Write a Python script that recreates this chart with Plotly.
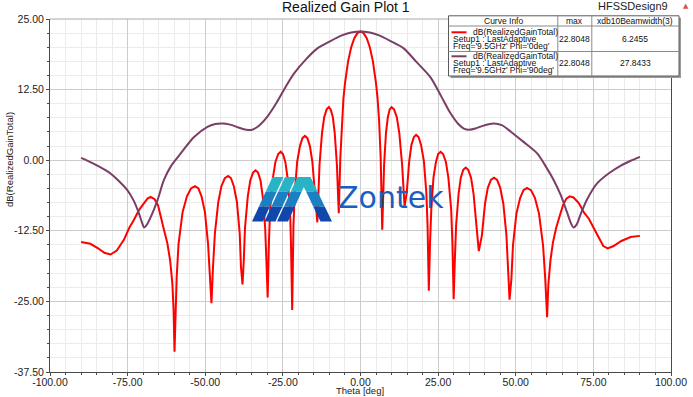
import plotly.graph_objects as go

# ---------------- data ----------------
red_theta = [-90, -87, -84.5, -82.5, -80.5, -78.5, -76.2, -74.5, -73.0, -71.3, -69.7, -68.6, -67.6, -66.3, -65.2,
             -64.4, -63.3, -62.2, -61.3, -60.6, -60.2, -59.9,
             -59.2, -58.6, -57.3, -55.9, -54.6, -53.3, -52.2, -51.2, -50.1, -49.1, -48.5, -48.0,
             -47.5, -46.9, -45.8, -44.8, -43.7, -42.6, -41.7, -40.8, -39.8, -38.9, -38.5, -38.0,
             -37.6, -37.2, -36.3, -35.5, -34.6, -33.8, -33.0, -32.2, -31.5, -30.7, -30.3, -29.9,
             -29.5, -29.1, -28.2, -27.4, -26.5, -25.7, -25.0, -24.2, -23.5, -22.7, -22.4, -22.0,
             -21.6, -21.2, -20.4, -19.5, -18.7, -17.9, -17.1, -16.3, -15.5, -14.7, -13.9,
             -13.2, -12.4, -11.7, -10.9, -10.2, -9.6, -8.9, -8.3, -7.6, -7.0,
             -6.5, -6.0, -5.5, -5.0, -4.0, -3.0, -2.0, -1.0, 0.0, 1.0, 2.0, 3.0, 4.0, 5.0, 5.5, 6.0, 6.5, 7.0,
             7.6, 8.2, 8.8, 9.4, 10.0, 10.8, 11.7, 12.5, 13.4, 14.2,
             14.9, 15.7, 16.4, 17.2, 17.9, 18.7, 19.5, 20.4, 21.2, 21.6, 22.0,
             22.4, 22.8, 23.5, 24.3, 25.0, 25.8, 26.6, 27.5, 28.3, 29.2, 29.6, 30.0,
             30.4, 30.8, 31.6, 32.3, 33.1, 33.9, 34.7, 35.6, 36.4, 37.3, 38.1,
             39.1, 40.1, 41.0, 42.0, 43.0, 44.0, 45.0, 46.0, 47.0, 47.5, 48.0,
             48.6, 49.1, 50.2, 51.4, 52.5, 53.6, 54.9, 56.2, 57.5, 58.8, 59.5, 60.1,
             60.5, 61.2, 62.0, 63.0, 64.2, 65.2, 66.3, 67.4, 68.6, 70.3, 72.0, 73.6, 75.1, 76.8, 78.2,
             79.6, 81.5, 84.0, 87.0, 90.0]
red_gain = [-14.5, -14.8, -15.6, -16.4, -16.7, -16.0, -14.1, -12.0, -10.6, -8.8, -7.6, -6.8, -6.5, -6.9, -8.0,
            -10.0, -12.3, -14.7, -17.8, -21.8, -26.5, -33.9,
            -20.7, -14.8, -9.2, -6.4, -5.0, -4.6, -5.0, -6.4, -9.2, -14.8, -20.7, -25.3,
            -18.9, -13.0, -7.4, -4.6, -3.2, -2.8, -3.2, -4.6, -7.4, -13.0, -18.9, -22.0,
            -17.9, -12.0, -6.4, -3.6, -2.2, -1.8, -2.2, -3.6, -6.4, -12.0, -17.9, -24.3,
            -14.6, -8.7, -3.1, -0.3, 1.1, 1.5, 1.1, -0.3, -3.1, -8.7, -14.6, -26.5,
            -11.8, -5.9, -0.3, 2.5, 3.9, 4.3, 3.9, 2.5, -0.3, -5.9, -11.0,
            -0.8, 4.8, 7.6, 9.0, 9.4, 9.0, 7.6, 4.8, -0.8, -9.4,
            0.4, 6.9, 10.9, 13.6, 17.5, 20.0, 21.6, 22.5, 22.8048, 22.5, 21.6, 20.0, 17.5, 13.6, 10.9, 6.9, 0.4, -12.3,
            -0.8, 4.8, 7.6, 9.0, 9.4, 9.0, 7.6, 4.8, -0.8, -8.2,
            -5.7, -0.1, 2.7, 4.1, 4.5, 4.1, 2.7, -0.1, -5.7, -11.6, -23.1,
            -14.6, -8.7, -3.1, -0.3, 1.1, 1.5, 1.1, -0.3, -3.1, -8.7, -14.6, -24.6,
            -17.4, -11.5, -5.9, -3.1, -1.7, -1.3, -1.7, -3.1, -5.9, -11.5, -16.1,
            -13.3, -7.7, -4.9, -3.5, -3.1, -3.5, -4.9, -7.7, -13.3, -19.2, -24.7,
            -21.0, -15.1, -9.5, -6.7, -5.3, -4.9, -5.3, -6.7, -9.5, -15.1, -21.0, -27.8,
            -22.0, -17.6, -14.5, -12.0, -9.8, -8.0, -6.8, -6.4, -6.6, -7.6, -9.3, -10.4, -12.0, -13.9, -15.2,
            -15.6, -15.2, -14.3, -13.6, -13.4]

purple_theta = [-90, -86, -82, -80.4, -78, -75.1, -73.0, -71.5, -70.4, -69.7, -68.9, -67.5, -65.4, -63.3, -61.0,
                -57.9, -53.6, -49.3, -46.8, -44.5, -42.0, -39.3, -36.8, -34.9, -32.5, -30.0, -27.0, -24.0,
                -21.5, -17.5, -13.9, -10.0, -6.0, -3.0, 0.0, 3.0, 6.0, 10.0, 13.9, 18.0, 22.5, 26.0, 29.0,
                31.5, 33.3, 35.0, 37.0, 40.0, 42.9, 45.5, 48.5, 52.6, 56.9, 60.0, 62.2, 64.5, 66.5, 67.8,
                68.6, 69.6, 71.0, 73.0, 76.2, 80.0, 84.0, 87.0, 90.0]
purple_gain = [0.4, -0.6, -1.8, -2.4, -3.6, -5.3, -7.2, -9.2, -11.0, -11.9, -11.5, -10.0, -7.1, -3.5, -1.0,
               1.2, 4.1, 5.9, 6.4, 6.5, 6.3, 5.8, 5.4, 5.4, 6.2, 7.7, 10.2, 13.1,
               15.3, 17.9, 19.8, 21.0, 22.1, 22.6, 22.8048, 22.6, 22.1, 21.0, 19.8, 17.4, 14.7, 11.3, 8.3,
               6.4, 5.6, 5.4, 5.6, 6.2, 6.5, 6.2, 5.0, 3.2, 1.2, -1.4, -3.5, -6.2, -9.2, -11.2,
               -11.9, -11.4, -9.4, -6.9, -4.1, -2.3, -0.9, -0.1, 0.6]

x_tickvals = [-100, -75, -50, -25, 0, 25, 50, 75, 100]
x_ticktext = ["-100.00", "-75.00", "-50.00", "-25.00", "0.00", "25.00", "50.00", "75.00", "100.00"]
y_tickvals = [-37.5, -25, -12.5, 0, 12.5, 25]
y_ticktext = ["-37.50", "-25.00", "-12.50", "0.00", "12.50", "25.00"]

curve_names = ["dB(RealizedGainTotal)", "dB(RealizedGainTotal)"]
curve_setups = ["Setup1 : LastAdaptive", "Setup1 : LastAdaptive"]
curve_freqs = ["Freq='9.5GHz' Phi='0deg'", "Freq='9.5GHz' Phi='90deg'"]
curve_max = ["22.8048", "22.8048"]
curve_bw = ["6.2455", "27.8433"]
curve_colors = ["#ff0000", "#7b3e66"]

# ---------------- layout helpers (pixel -> paper) ----------------
W, H = 693, 397
ML, MR, MT, MB = 50, 22, 19, 25
PW, PH = W - ML - MR, H - MT - MB


def fx(p):
    return (p - ML) / PW


def fy(p):
    return (H - MB - p) / PH


FONT = "Liberation Sans, Arial, sans-serif"

fig = go.Figure()
fig.add_trace(go.Scatter(x=red_theta, y=red_gain, mode="lines",
                         line=dict(color=curve_colors[0], width=2), hoverinfo="skip", showlegend=False))
fig.add_trace(go.Scatter(x=purple_theta, y=purple_gain, mode="lines",
                         line=dict(color=curve_colors[1], width=2, shape="spline", smoothing=0.8),
                         hoverinfo="skip", showlegend=False))

axis_common = dict(showline=True, linecolor="#4a4a4a", linewidth=1, ticks="outside", ticklen=3,
                   tickcolor="#4a4a4a", showgrid=True, gridcolor="#cccccc", gridwidth=1, zeroline=False,
                   tickfont=dict(family=FONT, size=10.5, color="#222222"), fixedrange=True, automargin=False)

fig.update_xaxes(range=[-100, 100], tickmode="array", tickvals=x_tickvals, ticktext=x_ticktext,
                 ticklabelstandoff=-3,
                 minor=dict(tickvals=list(range(-95, 100, 5)), ticks="outside", ticklen=2, tickcolor="#4a4a4a",
                            showgrid=True, gridcolor="#ebebeb"),
                 **axis_common)
fig.update_yaxes(range=[-37.5, 25], tickmode="array", tickvals=y_tickvals, ticktext=y_ticktext, mirror=True,
                 minor=dict(tickvals=[v / 2 for v in range(-70, 50, 5)], ticks="outside", ticklen=2,
                            tickcolor="#4a4a4a", showgrid=True, gridcolor="#ebebeb"),
                 **axis_common)

shapes = []
annotations = []

# top frame line
shapes.append(dict(type="line", xref="paper", yref="paper", x0=0, x1=1, y0=1, y1=1,
                   line=dict(color="#a8a8a8", width=1)))

# ---------------- watermark logo ----------------
band_colors = ["#2ab3c6", "#1b7fc3", "#1047ad"]
y_top, y_bot = 177.0, 221.5
stripes = [  # (top_left, top_right, bottom_left, bottom_right) in px
    (272.5, 283.5, 252.0, 263.0),
    (285.0, 296.0, 264.5, 275.5),
    (297.5, 308.5, 277.0, 288.0),
    (299.0, 310.5, 320.5, 332.0),
]
for tl, tr, bl, br in stripes:
    for b in range(3):
        ya = y_top + (y_bot - y_top) * b / 3
        yb = y_top + (y_bot - y_top) * (b + 1) / 3
        fa = (ya - y_top) / (y_bot - y_top)
        fb = (yb - y_top) / (y_bot - y_top)
        xl_a, xr_a = tl + (bl - tl) * fa, tr + (br - tr) * fa
        xl_b, xr_b = tl + (bl - tl) * fb, tr + (br - tr) * fb
        path = (f"M {fx(xl_a)},{fy(ya)} L {fx(xr_a)},{fy(ya)} L {fx(xr_b)},{fy(yb)} "
                f"L {fx(xl_b)},{fy(yb)} Z")
        shapes.append(dict(type="path", xref="paper", yref="paper", path=path,
                           fillcolor=band_colors[b], line=dict(width=0), layer="above"))

annotations.append(dict(text="Zontek", xref="paper", yref="paper", x=fx(391), y=fy(197),
                        xanchor="center", yanchor="middle", showarrow=False,
                        font=dict(family="DejaVu Sans", size=30, color="#1a5fc0")))

# ---------------- legend table ----------------
bx0, bx1, by0, by1 = 448.5, 679.0, 15.8, 76.0
shapes.append(dict(type="rect", xref="paper", yref="paper", x0=fx(bx0 + 2), x1=fx(bx1 + 2),
                   y0=fy(by1 + 2), y1=fy(by0 + 2), fillcolor="#9a9a9a", line=dict(width=0), layer="above"))
shapes.append(dict(type="rect", xref="paper", yref="paper", x0=fx(bx0), x1=fx(bx1), y0=fy(by1), y1=fy(by0),
                   fillcolor="white", line=dict(color="#5a5a5a", width=1), layer="above"))
for yy in (26.0, 51.5):
    shapes.append(dict(type="line", xref="paper", yref="paper", x0=fx(bx0), x1=fx(bx1), y0=fy(yy), y1=fy(yy),
                       line=dict(color="#8a8a8a", width=1), layer="above"))
for xx in (557.8, 591.8):
    shapes.append(dict(type="line", xref="paper", yref="paper", x0=fx(xx), x1=fx(xx), y0=fy(by1), y1=fy(by0),
                       line=dict(color="#8a8a8a", width=1), layer="above"))

LF = dict(family=FONT, size=8.5, color="#111111")


def ann(text, x, y, xanchor="left", font=LF):
    annotations.append(dict(text=text, xref="paper", yref="paper", x=fx(x), y=fy(y), xanchor=xanchor,
                            yanchor="middle", showarrow=False, font=font))


ann("Curve Info", 503.0, 21.0, "center")
ann("max", 574.8, 21.0, "center")
ann("xdb10Beamwidth(3)", 635.4, 21.0, "center")
for i in range(2):
    y0 = 32.3 + 24.0 * i
    shapes.append(dict(type="line", xref="paper", yref="paper", x0=fx(451.5), x1=fx(466.5), y0=fy(y0),
                       y1=fy(y0), line=dict(color=curve_colors[i], width=2), layer="above"))
    ann(curve_names[i], 471.0, y0)
    ann(curve_setups[i], 451.0, y0 + 6.6)
    ann(curve_freqs[i], 451.0, y0 + 13.2)
    ann(curve_max[i], 574.8, y0 + 6.4, "center")
    ann(curve_bw[i], 635.4, y0 + 6.4, "center")

# ---------------- titles ----------------
ann("Realized Gain Plot 1", 345.5, 7.5, "center", dict(family=FONT, size=14, color="#111111"))
ann("HFSSDesign9", 670.0, 6.0, "right", dict(family=FONT, size=11, color="#222222"))
ann("▲", 686.0, 5.5, "center", dict(family="DejaVu Sans", size=7, color="#d9534f"))
ann("Theta [deg]", 360.0, 390.5, "center", dict(family=FONT, size=9.5, color="#222222"))
annotations.append(dict(text="dB(RealizedGainTotal)", xref="paper", yref="paper", x=fx(10), y=fy(160),
                        xanchor="center", yanchor="middle", textangle=-90, showarrow=False,
                        font=dict(family=FONT, size=9.5, color="#222222")))

fig.update_layout(width=W, height=H, autosize=False, margin=dict(l=ML, r=MR, t=MT, b=MB, pad=0),
                  paper_bgcolor="white", plot_bgcolor="white", shapes=shapes, annotations=annotations,
                  showlegend=False)

fig.write_html("out.html", config={"displayModeBar": False, "staticPlot": True},
               post_script="document.body.style.margin='0px';document.body.style.overflow='hidden';")
